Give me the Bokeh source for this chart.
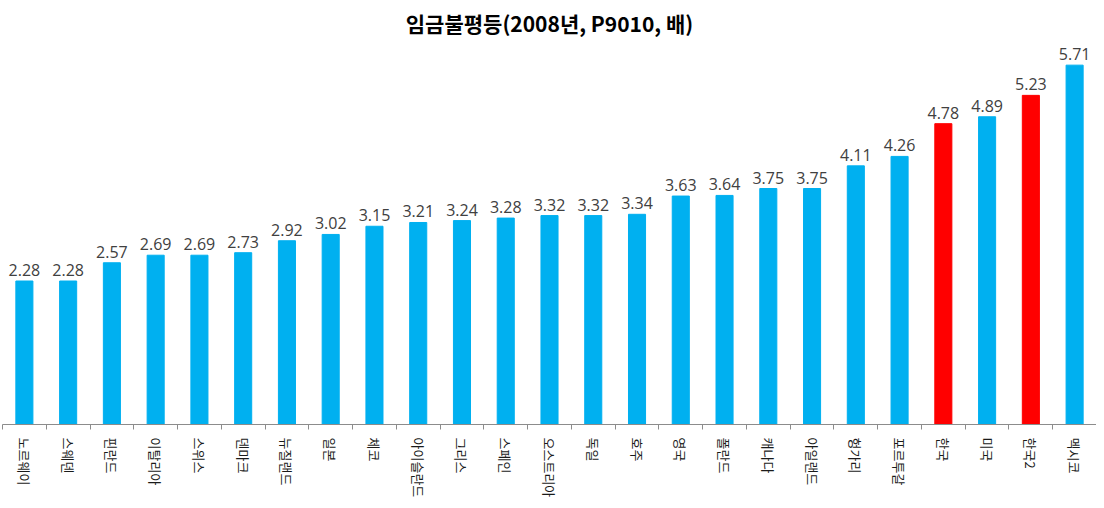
import math
from bokeh.plotting import figure
from bokeh.models import Range1d, FixedTicker, ColumnDataSource
from bokeh.core.properties import value
from bokeh.embed import file_html
from bokeh.resources import INLINE

countries = ["노르웨이", "스웨덴", "핀란드", "이탈리아", "스위스", "덴마크", "뉴질랜드", "일본", "체코",
             "아이슬란드", "그리스", "스페인", "오스트리아", "독일", "호주", "영국", "폴란드", "캐나다",
             "아일랜드", "헝가리", "포르투갈", "한국", "미국", "한국2", "멕시코"]
values = [2.28, 2.28, 2.57, 2.69, 2.69, 2.73, 2.92, 3.02, 3.15, 3.21, 3.24, 3.28, 3.32, 3.32, 3.34,
          3.63, 3.64, 3.75, 3.75, 4.11, 4.26, 4.78, 4.89, 5.23, 5.71]
highlight = ["한국", "한국2"]

BLUE = "#00B0F0"
RED = "#FF0000"

xs = list(range(1, len(countries) + 1))
colors = [RED if c in highlight else BLUE for c in countries]
labels = ["%.2f" % v for v in values]

src = ColumnDataSource(dict(x=xs, top=values, color=colors, label=labels))

p = figure(width=1096, height=500, output_backend="svg", toolbar_location=None,
           x_range=Range1d(0.5, len(countries) + 0.5), y_range=Range1d(0, 6.07),
           min_border_left=2, min_border_right=0, min_border_top=0, min_border_bottom=75,
           title="임금불평등(2008년, P9010, 배)")
p.title.align = "center"
p.title.text_font = "Noto Sans CJK KR"
p.title.text_font_size = "21px"
p.title.text_font_style = "bold"
p.title.text_color = "#000000"

p.vbar(x="x", top="top", width=0.39, color="color", source=src)
p.text(x="x", y="top", text="label", source=src, y_offset=-5,
       text_align="center", text_baseline="bottom",
       text_font=value("Open Sans"), text_font_size="16px", text_color="#404040")

p.yaxis.visible = False
p.xgrid.visible = False
p.ygrid.visible = False
p.outline_line_color = None

ax = p.xaxis[0]
ax.ticker = FixedTicker(ticks=xs, minor_ticks=[x - 0.5 for x in xs] + [len(xs) + 0.5])
ax.major_label_overrides = {x: c for x, c in zip(xs, countries)}
ax.major_label_orientation = -math.pi / 2
ax.major_tick_line_color = None
ax.major_tick_out = 0
ax.major_tick_in = 0
ax.minor_tick_out = 5
ax.minor_tick_in = 0
ax.minor_tick_line_color = "#8c8c8c"
ax.axis_line_color = "#8c8c8c"
ax.major_label_standoff = 8
ax.major_label_text_font = "Noto Sans CJK KR"
ax.major_label_text_font_size = "13px"
ax.major_label_text_color = "#1a1a1a"

open("out.html", "w").write(file_html(p, INLINE))
